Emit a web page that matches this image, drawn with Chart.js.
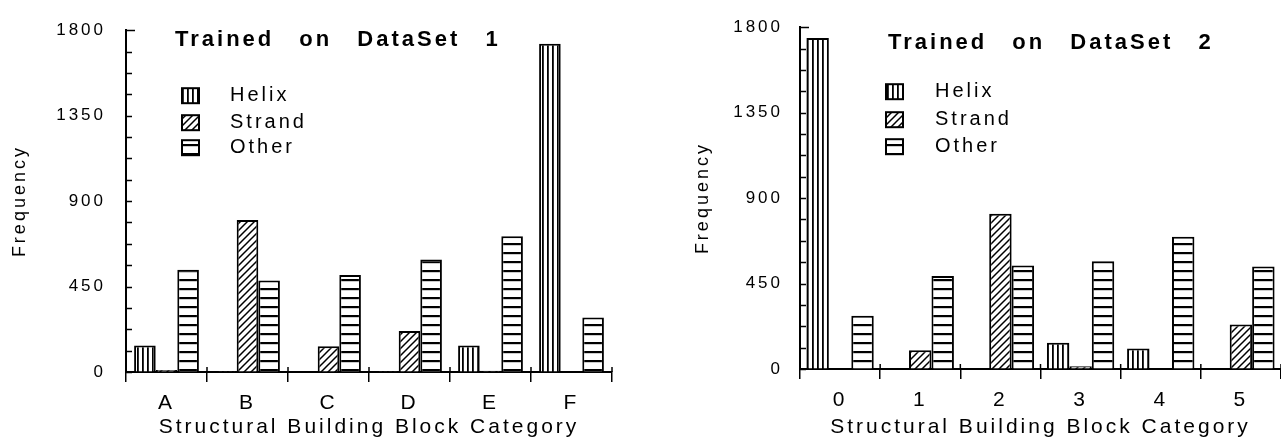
<!DOCTYPE html>
<html>
<head>
<meta charset="utf-8">
<script src="https://cdn.jsdelivr.net/npm/chart.js@4.4.0/dist/chart.umd.min.js"></script>
<style>
  html, body { margin: 0; padding: 0; background: #fff; }
  #wrap { position: relative; width: 1281px; height: 439px; overflow: hidden; }
  canvas { position: absolute; top: 0; }
</style>
</head>
<body>
<div id="wrap">
  <canvas id="left" width="640" height="439" style="left:0"></canvas>
  <canvas id="right" width="641" height="439" style="left:640px"></canvas>
</div>
<script>
const seriesNames = ['Helix', 'Strand', 'Other']

// Trained on DataSet 1
const categories1 = ['A', 'B', 'C', 'D', 'E', 'F']
const helix1  = [139, 4, 3, 4, 139, 1729]
const strand1 = [10, 801, 135, 216, 6, 0]
const other1  = [538, 482, 511, 592, 715, 287]

// Trained on DataSet 2
const categories2 = ['0', '1', '2', '3', '4', '5']
const helix2  = [1743, 0, 0, 138, 108, 0]
const strand2 = [0, 99, 817, 14, 0, 234]
const other2  = [280, 490, 545, 568, 697, 540]

const yTickLabels = [0, 450, 900, 1350, 1800]
const xTitle = 'Structural Building Block Category'
const yTitle = 'Frequency'

Chart.defaults.font.family = '"Liberation Sans", Arial, Helvetica, sans-serif'
Chart.defaults.color = '#000'

function makePattern(kind) {
  const c = document.createElement('canvas')
  const g = c.getContext('2d')
  if (kind === 'helix') {
    c.width = 5; c.height = 5
    g.fillStyle = '#fff'; g.fillRect(0, 0, 5, 5)
    g.fillStyle = '#000'; g.fillRect(2, 0, 1.8, 5)
  } else if (kind === 'strand') {
    c.width = 7; c.height = 7
    g.fillStyle = '#fff'; g.fillRect(0, 0, 7, 7)
    g.strokeStyle = '#000'; g.lineWidth = 1.5
    g.beginPath()
    g.moveTo(0, 7); g.lineTo(7, 0)
    g.moveTo(-1, 1); g.lineTo(1, -1)
    g.moveTo(6, 8); g.lineTo(8, 6)
    g.stroke()
  } else {
    c.width = 4; c.height = 9
    g.fillStyle = '#fff'; g.fillRect(0, 0, 4, 9)
    g.fillStyle = '#000'; g.fillRect(0, 0, 4, 2.2)
  }
  return g.createPattern(c, 'repeat')
}

// canvas letter spacing for the wide-set scanned lettering
const spacing = {
  id: 'spacing',
  beforeUpdate(chart) { chart.ctx.letterSpacing = '3px' },
  beforeDraw(chart) { chart.ctx.letterSpacing = '3px' },
}

// in-plot title, legend and inward y ticks
const panel = {
  id: 'panel',
  afterDatasetsDraw(chart, args, opts) {
    const { ctx, chartArea: a } = chart
    const y = chart.scales.y
    const x = chart.scales.x
    ctx.save()
    ctx.strokeStyle = '#000'
    ctx.lineWidth = 1.5
    y.ticks.forEach(t => {
      const py = Math.round(y.getPixelForValue(t.value)) + 0.5
      ctx.beginPath()
      ctx.moveTo(a.left, py)
      ctx.lineTo(a.left + (t.value === 1800 ? 9 : 6), py)
      ctx.stroke()
    })
    for (let i = 0; i <= x.ticks.length; i++) {
      const px = x.getPixelForValue(i - 0.5)
      ctx.beginPath()
      ctx.moveTo(px, a.bottom)
      ctx.lineTo(px, a.bottom - 5)
      ctx.stroke()
    }

    ctx.fillStyle = '#000'
    ctx.textBaseline = 'middle'
    ctx.textAlign = 'left'
    ctx.letterSpacing = '3px'
    ctx.wordSpacing = '16px'
    ctx.font = 'bold 22px "Liberation Sans", Arial, sans-serif'
    ctx.fillText(opts.title, a.left + opts.titleDx, a.top + opts.titleDy)

    ctx.wordSpacing = '0px'
    ctx.font = '20px "Liberation Sans", Arial, sans-serif'
    chart.data.datasets.forEach((ds, i) => {
      const cy = a.top + opts.rowDy[i]
      const sx = a.left + opts.swatchDx
      ctx.fillStyle = ds.backgroundColor
      ctx.fillRect(sx, cy - 7, 17, 15)
      ctx.lineWidth = 2
      ctx.strokeRect(sx, cy - 7, 17, 15)
      ctx.fillStyle = '#000'
      ctx.fillText(ds.label, a.left + opts.textDx, cy)
    })
    ctx.restore()
  }
}

function makeChart(id, cats, h, s, o, p) {
  const fills = [makePattern('helix'), makePattern('strand'), makePattern('other')]
  const datasets = [h, s, o].map((d, i) => ({
    label: seriesNames[i],
    data: d,
    backgroundColor: fills[i],
    borderColor: '#000',
    borderWidth: 2,
    barPercentage: 1,
    categoryPercentage: p.catPct,
  }))
  return new Chart(document.getElementById(id), {
    type: 'bar',
    data: { labels: cats, datasets },
    plugins: [spacing, panel],
    options: {
      responsive: false,
      animation: false,
      layout: { padding: { left: p.padLeft, right: p.padRight, top: p.padTop, bottom: 0 } },
      plugins: {
        legend: { display: false },
        tooltip: { enabled: false },
        panel: p.panel,
      },
      scales: {
        x: {
          afterFit: sc => { sc.height = p.xHeight },
          border: { display: true, color: '#000', width: 2 },
          grid: { offset: true, drawOnChartArea: false, drawTicks: true, tickLength: 10, color: '#000', lineWidth: 1.5 },
          ticks: { padding: 9, font: { size: 21 }, maxRotation: 0 },
          title: { display: true, text: xTitle, font: { size: 21, lineHeight: 1 }, padding: { top: 0, bottom: 1 } },
        },
        y: {
          min: 0,
          max: 1800,
          afterFit: sc => { sc.width = p.yWidth },
          border: { display: true, color: '#000', width: 2 },
          grid: { drawOnChartArea: false, drawTicks: false },
          ticks: {
            stepSize: 112.5,
            autoSkip: false,
            padding: p.yPad,
            font: { size: 17 },
            callback: v => yTickLabels.includes(v) ? String(v) : '',
          },
          title: { display: true, text: yTitle, font: { size: 18 }, padding: { top: 5, bottom: 0 } },
        },
      },
    },
  })
}

makeChart('left', categories1, helix1, strand1, other1, {
  catPct: 0.8, padLeft: 4, padRight: 28, padTop: 25, xHeight: 67, yWidth: 122, yPad: 20,
  panel: { title: 'Trained on DataSet 1', titleDx: 49, titleDy: 10, swatchDx: 56, textDx: 104, rowDy: [65, 92, 117] },
})

makeChart('right', categories2, helix2, strand2, other2, {
  catPct: 0.84, padLeft: 47, padRight: 0, padTop: 15, xHeight: 70, yWidth: 113, yPad: 17,
  panel: { title: 'Trained on DataSet 2', titleDx: 88, titleDy: 16, swatchDx: 86, textDx: 135, rowDy: [64, 92, 119] },
})
</script>
</body>
</html>
